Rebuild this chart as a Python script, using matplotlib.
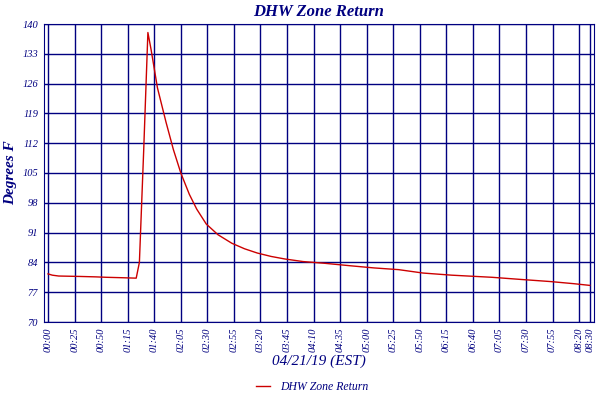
import matplotlib
matplotlib.use("Agg")
import matplotlib.pyplot as plt

# minutes since midnight and return temperature (F)
minutes = [0, 4, 10, 30, 45, 55, 70, 83, 86, 90, 94, 97, 103, 111, 118, 125, 133, 140,
           149, 160, 173, 185, 197, 210, 223, 240, 260, 285, 307, 330, 353, 380, 418,
           445, 473, 495, 510]
temps = [81.3, 81.0, 80.8, 80.7, 80.6, 80.5, 80.4, 80.3, 84.0, 110.0, 138.0, 134.0, 125.0, 117.0,
         110.5, 105.0, 100.0, 96.5, 93.0, 90.5, 88.5, 87.2, 86.2, 85.4, 84.8, 84.2, 83.8, 83.2,
         82.7, 82.3, 81.5, 81.0, 80.5, 80.0, 79.5, 79.0, 78.6]

tick_min = list(range(0, 501, 25)) + [510]
tick_lbl = ["%02d:%02d" % (m // 60, m % 60) for m in tick_min]
y_ticks = list(range(70, 141, 7))

navy = "#000080"
plt.rcParams["font.family"] = "Liberation Serif"

fig = plt.figure(figsize=(6, 4), dpi=100)
ax = fig.add_axes([0.073, 0.195, 0.917, 0.745])
ax.plot(minutes, temps, color="#cc0000", lw=1, label="DHW Zone Return")
ax.set_xlim(-4, 514)
ax.set_ylim(70, 140)
ax.set_xticks(tick_min)
ax.set_xticklabels(tick_lbl, rotation=90, fontsize=7.5, style="italic", color=navy)
ax.set_yticks(y_ticks)
ax.set_yticklabels(y_ticks, fontsize=7.5, style="italic", color=navy)
ax.tick_params(length=0, pad=4)
ax.grid(True, color=navy, lw=1)
for s in ax.spines.values():
    s.set_color(navy)
ax.set_title("DHW Zone Return", fontsize=12, style="italic", weight="bold", color=navy, pad=6)
ax.set_ylabel("Degrees F", fontsize=11, style="italic", weight="bold", color=navy)
ax.set_xlabel("04/21/19 (EST)", fontsize=11, style="italic", color=navy, labelpad=2)
leg = fig.legend(loc="lower center", bbox_to_anchor=(0.52, -0.01), frameon=False,
                 prop={"style": "italic", "size": 8.5}, handlelength=1.2)
for t in leg.get_texts():
    t.set_color(navy)
fig.savefig("out.png")
